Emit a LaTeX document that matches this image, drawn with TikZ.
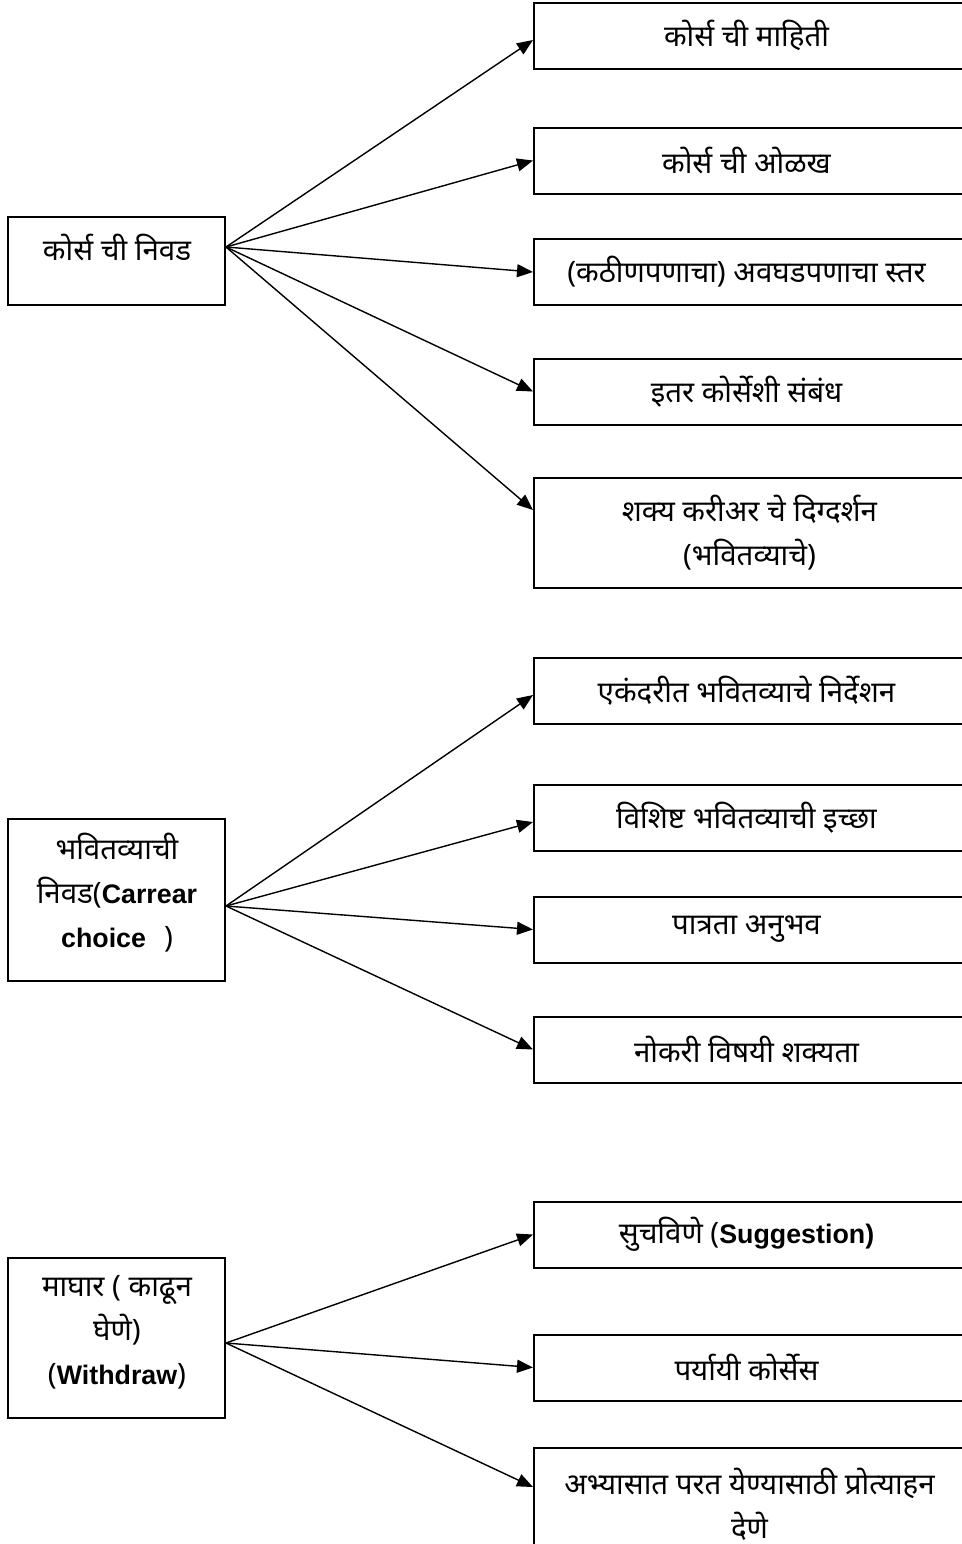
\documentclass[tikz,border=0pt]{standalone}
\usepackage{fontspec}
\setmainfont[Script=Devanagari, Scale=1.1]{Noto Sans}
\newfontfamily\lat{Liberation Sans}
\usetikzlibrary{arrows.meta}
\tikzset{box/.style={draw, line width=1pt, inner sep=0pt, align=center},
  lt/.style={box, minimum width=108.5pt},
  rt/.style={box, minimum width=215.5pt, minimum height=33pt},
  txt/.style={inner sep=0pt, align=center},
  link/.style={line width=0.7pt, -{Triangle[length=8pt, width=6.5pt]}},
  every node/.style={font=\fontsize{13.4}{22}\selectfont}}

\begin{document}
\begin{tikzpicture}[x=0.5pt, y=-0.5pt]
   \useasboundingbox (0,0) rectangle (962,1544);
   % course choice
   \node[lt, minimum height=44pt] (L1) at (116.5,261) {};
   \node[txt] (t1) at (117,247) {कोर्स ची निवड};
   \node[rt] (R1) at (749.5,35.5) {\hspace*{-3pt}कोर्स ची माहिती};
   \node[rt] (R2) at (749.5,160.5) {\hspace*{-3pt}कोर्स ची ओळख};
   \node[rt] (R3) at (749.5,272) {\hspace*{-3pt}(कठीणपणाचा) अवघडपणाचा स्तर};
   \node[rt] (R4) at (749.5,391.5) {\hspace*{-3pt}इतर कोर्सेशी संबंध};
   \node[rt, minimum height=55pt] (R5) at (749.5,533) {शक्य करीअर चे दिग्दर्शन\\(भवितव्याचे)};
   \draw[link] (L1.east |- t1) -- ([yshift=-2.25pt]R1.west);
   \draw[link] (L1.east |- t1) -- (R2.west);
   \draw[link] (L1.east |- t1) -- (R3.west);
   \draw[link] (L1.east |- t1) -- (R4.west);
   \draw[link] (L1.east |- t1) -- ([yshift=11.5pt]R5.west);
   % career choice
   \node[lt, minimum height=81pt] (L2) at (116.5,900) {};
   \node[txt] (t2) at (117,893) {भवितव्याची\\निवड({\lat\bfseries Carrear}\\{\lat\bfseries choice}\hspace{9pt})};
   \node[rt] (R6) at (749.5,690.5) {\hspace*{-3pt}एकंदरीत भवितव्याचे निर्देशन};
   \node[rt] (R7) at (749.5,818) {\hspace*{-3pt}विशिष्ट भवितव्याची इच्छा};
   \node[rt] (R8) at (749.5,929.5) {\hspace*{-3pt}पात्रता अनुभव};
   \node[rt] (R9) at (749.5,1049.5) {\hspace*{-3pt}नोकरी विषयी शक्यता};
   \draw[link] ([yshift=-3pt]L2.east) -- ([yshift=-2.25pt]R6.west);
   \draw[link] ([yshift=-3pt]L2.east) -- ([yshift=-2pt]R7.west);
   \draw[link] ([yshift=-3pt]L2.east) -- (R8.west);
   \draw[link] ([yshift=-3pt]L2.east) -- (R9.west);
   % withdraw
   \node[lt, minimum height=80pt] (L3) at (116.5,1338) {};
   \node[txt] (t3) at (117,1332) {माघार ( काढून\\घेणे)\\({\lat\bfseries Withdraw})};
   \node[rt] (R10) at (749.5,1234.5) {\hspace*{-3pt}सुचविणे ({\lat\bfseries Suggestion)}};
   \node[rt] (R11) at (749.5,1367.5) {\hspace*{-3pt}पर्यायी कोर्सेस};
   \node[rt, minimum height=56pt] (R12) at (749.5,1504) {अभ्यासात परत येण्यासाठी प्रोत्याहन\\देणे};
   \draw[link] ([yshift=-2.5pt]L3.east) -- (R10.west);
   \draw[link] ([yshift=-2.5pt]L3.east) -- (R11.west);
   \draw[link] ([yshift=-2.5pt]L3.east) -- ([yshift=8.5pt]R12.west);
\end{tikzpicture}
\end{document}
